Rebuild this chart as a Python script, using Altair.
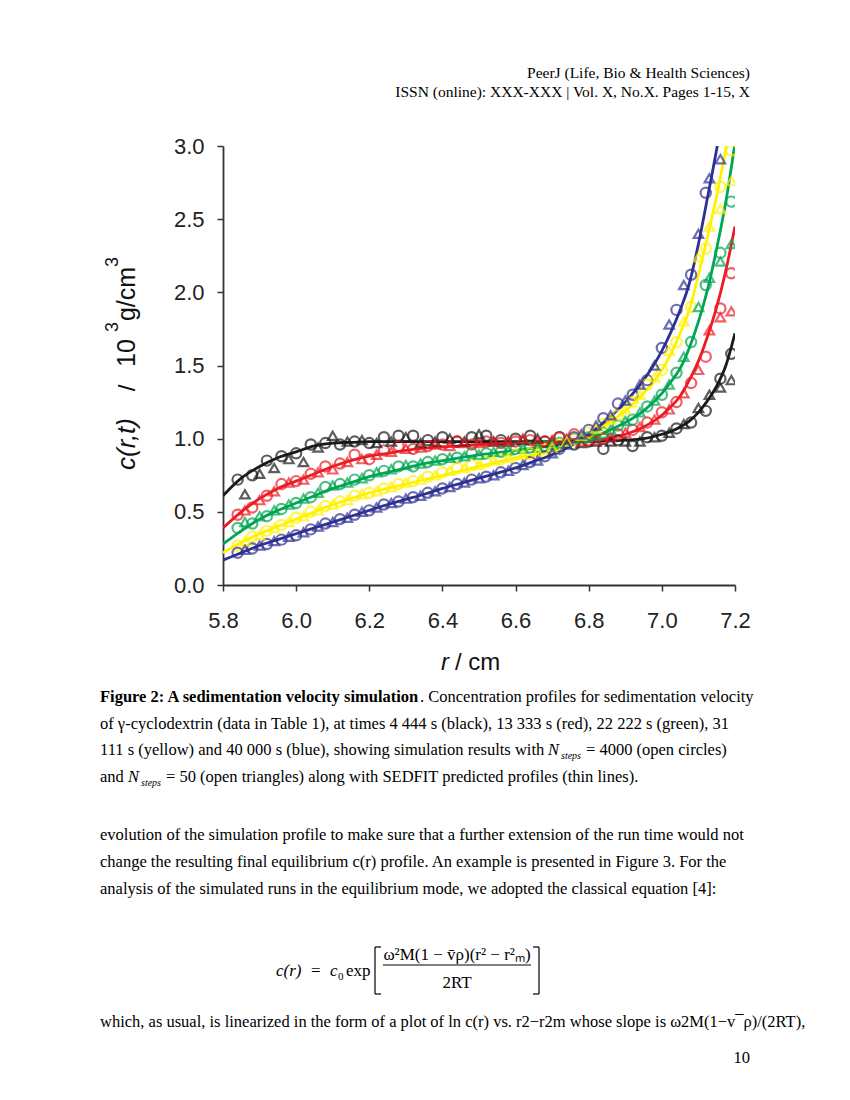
import altair as alt
import pandas as pd

# ---------------- data ----------------
SERIES = ["4 444 s", "13 333 s", "22 222 s", "31 111 s", "40 000 s"]
COLORS = ["#1a1a1a", "#ed1c24", "#00a651", "#fff200", "#2e3192"]

# SEDFIT predicted profiles (thin lines)
R_LINE = [5.80, 5.85, 5.90, 5.95, 6.00, 6.05, 6.10, 6.15, 6.20, 6.25, 6.30, 6.35,
          6.40, 6.45, 6.50, 6.55, 6.60, 6.65, 6.70, 6.75, 6.80, 6.85, 6.90, 6.95,
          7.00, 7.025, 7.05, 7.075, 7.10, 7.125, 7.15, 7.175, 7.20]
LINE_BLACK = [0.61, 0.73, 0.81, 0.87, 0.91, 0.95, 0.97, 0.975, 0.98, 0.98, 0.98, 0.98,
              0.98, 0.98, 0.98, 0.98, 0.98, 0.98, 0.98, 0.98, 0.98, 0.985, 0.99, 1.00,
              1.03, 1.05, 1.08, 1.12, 1.18, 1.26, 1.36, 1.50, 1.72]
LINE_RED = [0.39, 0.50, 0.59, 0.66, 0.71, 0.76, 0.81, 0.85, 0.88, 0.90, 0.92, 0.935,
            0.945, 0.95, 0.96, 0.965, 0.97, 0.97, 0.975, 0.975, 0.98, 1.00, 1.03, 1.08,
            1.16, 1.22, 1.29, 1.40, 1.53, 1.70, 1.90, 2.15, 2.45]
LINE_GREEN = [0.28, 0.37, 0.45, 0.51, 0.56, 0.61, 0.66, 0.70, 0.74, 0.77, 0.80, 0.83,
              0.85, 0.87, 0.89, 0.905, 0.92, 0.935, 0.95, 0.97, 1.00, 1.05, 1.11, 1.19,
              1.31, 1.39, 1.48, 1.62, 1.80, 2.02, 2.30, 2.62, 3.02]
LINE_YELLOW = [0.22, 0.29, 0.35, 0.40, 0.45, 0.50, 0.55, 0.59, 0.63, 0.66, 0.69, 0.72,
               0.75, 0.78, 0.81, 0.84, 0.87, 0.89, 0.92, 0.96, 1.02, 1.10, 1.19, 1.31,
               1.47, 1.58, 1.72, 1.88, 2.12, 2.38, 2.66, 2.98, 3.35]
LINE_BLUE = [0.17, 0.22, 0.27, 0.31, 0.35, 0.39, 0.43, 0.47, 0.51, 0.55, 0.585, 0.62,
             0.66, 0.695, 0.73, 0.765, 0.80, 0.845, 0.89, 0.95, 1.03, 1.13, 1.25, 1.40,
             1.60, 1.73, 1.88, 2.06, 2.33, 2.65, 2.98, 3.35, 3.80]

# N_steps = 4000 (open circles)
R_CIRC = [5.84, 5.88, 5.92, 5.96, 6.00, 6.04, 6.08, 6.12, 6.16, 6.20, 6.24, 6.28,
          6.32, 6.36, 6.40, 6.44, 6.48, 6.52, 6.56, 6.60, 6.64, 6.68, 6.72, 6.76,
          6.80, 6.84, 6.88, 6.92, 6.96, 7.00, 7.04, 7.08, 7.12, 7.16, 7.19]
CIRC_BLACK = [0.72, 0.75, 0.85, 0.88, 0.90, 0.96, 0.97, 0.96, 0.98, 0.97, 1.01, 1.02,
              1.02, 0.99, 1.01, 0.98, 1.01, 1.02, 0.99, 1.00, 1.02, 0.98, 1.01, 0.96,
              0.98, 0.93, 0.99, 0.95, 1.01, 1.02, 1.07, 1.11, 1.19, 1.41, 1.58]
CIRC_RED = [0.48, 0.53, 0.61, 0.69, 0.71, 0.76, 0.81, 0.83, 0.89, 0.86, 0.92, 0.95,
            0.93, 0.95, 0.96, 0.98, 0.96, 0.98, 0.97, 0.98, 0.99, 0.98, 1.01, 1.03,
            0.99, 1.00, 1.03, 1.06, 1.11, 1.18, 1.25, 1.38, 1.56, 1.89, 2.13]
CIRC_GREEN = [0.39, 0.42, 0.47, 0.52, 0.56, 0.60, 0.67, 0.69, 0.72, 0.75, 0.78, 0.81,
              0.81, 0.84, 0.86, 0.87, 0.90, 0.90, 0.91, 0.93, 0.94, 0.95, 0.97, 1.00,
              1.01, 1.04, 1.09, 1.13, 1.22, 1.30, 1.45, 1.66, 2.05, 2.27, 2.62]
CIRC_YELLOW = [0.27, 0.33, 0.37, 0.41, 0.46, 0.50, 0.54, 0.57, 0.61, 0.63, 0.66, 0.69,
               0.71, 0.74, 0.77, 0.80, 0.82, 0.84, 0.86, 0.89, 0.90, 0.93, 0.96, 1.00,
               1.04, 1.10, 1.16, 1.25, 1.37, 1.47, 1.66, 1.90, 2.30, 2.72, 2.97]
CIRC_BLUE = [0.22, 0.25, 0.28, 0.31, 0.34, 0.38, 0.42, 0.45, 0.48, 0.51, 0.55, 0.57,
             0.60, 0.63, 0.66, 0.69, 0.72, 0.74, 0.77, 0.80, 0.84, 0.88, 0.93, 1.01,
             1.06, 1.14, 1.24, 1.30, 1.40, 1.62, 1.88, 2.12, 2.68, None, None]

# N_steps = 50 (open triangles)
R_TRI = [5.86, 5.90, 5.94, 5.98, 6.02, 6.06, 6.10, 6.14, 6.18, 6.22, 6.26, 6.30,
         6.34, 6.38, 6.42, 6.46, 6.50, 6.54, 6.58, 6.62, 6.66, 6.70, 6.74, 6.78,
         6.82, 6.86, 6.90, 6.94, 6.98, 7.02, 7.06, 7.10, 7.13, 7.16, 7.19]
TRI_BLACK = [0.62, 0.76, 0.80, 0.86, 0.84, 0.94, 1.02, 0.98, 0.99, 0.97, 0.98, 1.01,
             0.97, 0.98, 1.00, 0.98, 1.03, 0.98, 0.98, 0.99, 1.00, 0.98, 0.99, 0.97,
             0.98, 0.98, 0.98, 0.98, 1.01, 1.04, 1.10, 1.21, 1.30, 1.35, 1.40]
TRI_RED = [0.51, 0.58, 0.64, 0.70, 0.72, 0.77, 0.79, 0.84, 0.86, 0.89, 0.91, 0.93,
           0.94, 0.96, 0.95, 0.97, 0.97, 0.98, 0.98, 1.00, 0.98, 0.99, 1.00, 0.98,
           0.99, 1.01, 1.04, 1.08, 1.13, 1.20, 1.31, 1.47, 1.74, 1.83, 1.87]
TRI_GREEN = [0.43, 0.47, 0.51, 0.55, 0.59, 0.63, 0.68, 0.70, 0.73, 0.77, 0.79, 0.82,
             0.83, 0.85, 0.87, 0.88, 0.89, 0.91, 0.92, 0.93, 0.94, 0.96, 0.98, 1.00,
             1.02, 1.06, 1.12, 1.18, 1.26, 1.37, 1.56, 1.90, 2.10, 2.21, 2.33]
TRI_YELLOW = [0.30, 0.34, 0.39, 0.43, 0.47, 0.51, 0.55, 0.58, 0.62, 0.64, 0.67, 0.70,
              0.72, 0.75, 0.78, 0.80, 0.82, 0.85, 0.87, 0.89, 0.91, 0.94, 0.98, 1.02,
              1.07, 1.13, 1.20, 1.30, 1.42, 1.60, 1.80, 2.24, 2.45, 2.57, 2.76]
TRI_BLUE = [0.24, 0.27, 0.30, 0.33, 0.36, 0.40, 0.43, 0.46, 0.50, 0.53, 0.56, 0.59,
            0.61, 0.64, 0.67, 0.70, 0.73, 0.75, 0.78, 0.82, 0.85, 0.90, 0.96, 1.03,
            1.09, 1.16, 1.26, 1.37, 1.50, 1.78, 2.05, 2.40, 2.78, 2.91, None]

X_TICKS = [5.8, 6.0, 6.2, 6.4, 6.6, 6.8, 7.0, 7.2]
Y_TICKS = [0.0, 0.5, 1.0, 1.5, 2.0, 2.5, 3.0]


def table(xs, series_lists):
    rows = []
    for name, vals in zip(SERIES, series_lists):
        for r, v in zip(xs, vals):
            if v is not None:
                rows.append({"r": r, "c": v, "s": name})
    return pd.DataFrame(rows)


lines_df = table(R_LINE, [LINE_BLACK, LINE_RED, LINE_GREEN, LINE_YELLOW, LINE_BLUE])
circ_df = table(R_CIRC, [CIRC_BLACK, CIRC_RED, CIRC_GREEN, CIRC_YELLOW, CIRC_BLUE])
tri_df = table(R_TRI, [TRI_BLACK, TRI_RED, TRI_GREEN, TRI_YELLOW, TRI_BLUE])

# ---------------- geometry (page pixels) ----------------
X0, Y0 = 223, 146          # top-left of plot area on the page
W, H = 512, 439

SANS = "Liberation Sans"
SERIF = "Liberation Serif"

xs = alt.X("r:Q", scale=alt.Scale(domain=[5.8, 7.2], nice=False, zero=False),
           axis=alt.Axis(values=X_TICKS, format=".1f", title=None, grid=False,
                         labelFont=SANS, labelFontSize=22, labelColor="#222",
                         labelPadding=19, tickSize=6, tickColor="#333", tickWidth=1.5,
                         domainColor="#333", domainWidth=1.8, labelFlush=False))
ys = alt.Y("c:Q", scale=alt.Scale(domain=[0, 3], nice=False),
           axis=alt.Axis(values=Y_TICKS, format=".1f", title=None, grid=False,
                         labelFont=SANS, labelFontSize=22, labelColor="#222",
                         labelPadding=13, tickSize=6, tickColor="#333", tickWidth=1.5,
                         domainColor="#333", domainWidth=1.8))
col = alt.Color("s:N", scale=alt.Scale(domain=SERIES, range=COLORS), legend=None)

lines = alt.Chart(lines_df).mark_line(strokeWidth=2.8, clip=True, interpolate="monotone").encode(
    x=xs, y=ys, color=col, order=alt.Order("r:Q"))
circles = alt.Chart(circ_df).mark_point(shape="circle", filled=False, size=105,
                                        strokeWidth=2.2, clip=True).encode(x=xs, y=ys, color=col)
triangles = alt.Chart(tri_df).mark_point(shape="triangle-up", filled=False, size=90,
                                         strokeWidth=2.2, clip=True).encode(x=xs, y=ys, color=col)


def txt(s, x, y, size=16.5, font=SERIF, weight="normal", style="normal",
        align="left", angle=0, color="#000"):
    return alt.Chart(pd.DataFrame({"t": [s]})).mark_text(
        align=align, baseline="alphabetic", font=font, fontSize=size,
        fontWeight=weight, fontStyle=style, angle=angle, color=color
    ).encode(x=alt.value(x - X0), y=alt.value(y - Y0), text="t:N")


def rule(x1, y1, x2, y2, w=1.0, color="#000"):
    return alt.Chart(pd.DataFrame({"a": [0]})).mark_rule(color=color, strokeWidth=w).encode(
        x=alt.value(x1 - X0), x2=alt.value(x2 - X0), y=alt.value(y1 - Y0), y2=alt.value(y2 - Y0))


texts = [
    # page header
    txt("PeerJ (Life, Bio & Health Sciences)", 750, 78, size=15.5, align="right"),
    txt("ISSN (online): XXX-XXX | Vol. X, No.X. Pages 1-15, X", 750, 97, size=15.5, align="right"),
    # axis titles
    txt("r", 449, 670, size=24, font=SANS, style="italic", align="right", color="#111"),
    txt("/ cm", 455, 670, size=24, font=SANS, align="left", color="#111"),
    txt("c(r,t)", 135, 444, size=26, font=SANS, style="italic", align="center", angle=270, color="#111"),
    txt("/", 135, 388, size=24, font=SANS, align="center", angle=270, color="#111"),
    txt("10", 135, 353, size=25, font=SANS, align="center", angle=270, color="#111"),
    txt("3", 118, 327, size=18, font=SANS, align="center", angle=270, color="#111"),
    txt("g/cm", 135, 294, size=25, font=SANS, align="center", angle=270, color="#111"),
    txt("3", 118, 262, size=18, font=SANS, align="center", angle=270, color="#111"),
    # caption
    txt("Figure 2: A sedimentation velocity simulation", 100, 702, weight="bold"),
    txt(". Concentration profiles for sedimentation velocity", 420, 702),
    txt("of \u03b3-cyclodextrin (data in Table 1), at times 4 444 s (black), 13 333 s (red), 22 222 s (green), 31",
        100, 729),
    txt("111 s (yellow) and 40 000 s (blue), showing simulation results with", 100, 755),
    txt("N", 548, 755, style="italic"),
    txt("steps", 561, 759, size=10, style="italic"),
    txt("= 4000 (open circles)", 586, 755),
    txt("and", 100, 782),
    txt("N", 128, 782, style="italic"),
    txt("steps", 141, 786, size=10, style="italic"),
    txt("= 50 (open triangles) along with SEDFIT predicted profiles (thin lines).", 166, 782),
    # body text
    txt("evolution of the simulation profile to make sure that a further extension of the run time would not",
        100, 840),
    txt("change the resulting final equilibrium c(r) profile.  An example is presented in Figure 3.  For the",
        100, 867),
    txt("analysis of the simulated runs in the equilibrium mode, we adopted the classical equation [4]:",
        100, 894),
    # formula
    txt("c(r)", 276, 976, size=17, style="italic"),
    txt("=", 311, 976, size=17),
    txt("c", 330, 976, size=17, style="italic"),
    txt("0", 338, 980, size=11),
    txt("exp", 346, 976, size=17),
    txt("\u03c9\u00b2M(1 \u2212 v\u0304\u03c1)(r\u00b2 \u2212 r\u00b2\u2098)", 457, 960, size=17, align="center"),
    txt("2RT", 457, 988, size=17, align="center"),
    txt("which, as usual, is linearized in the form of a plot of ln c(r) vs. r2\u2212r2m whose slope is \u03c92M(1\u2212v\u00af\u03c1)/(2RT),",
        100, 1027),
    txt("10", 750, 1063, align="right"),
]

rules = [
    rule(383, 965, 531, 965, w=1.0),            # fraction bar
    rule(375, 947, 375, 994, w=1.2),            # left bracket
    rule(375, 947, 381, 947, w=1.2),
    rule(375, 994, 381, 994, w=1.2),
    rule(539, 947, 539, 994, w=1.2),            # right bracket
    rule(533, 947, 539, 947, w=1.2),
    rule(533, 994, 539, 994, w=1.2),
]

chart = alt.layer(lines, circles, triangles, *rules, *texts).properties(
    width=W, height=H,
    autosize=alt.AutoSizeParams(type="none"),
    padding={"left": X0 - 8, "top": Y0 - 8, "right": 834 - (X0 - 8) - W,
             "bottom": 1084 - (Y0 - 8) - H},
    background="white",
).configure_view(strokeWidth=0)

chart.save("out.html", embed_options={"renderer": "svg", "actions": False})
